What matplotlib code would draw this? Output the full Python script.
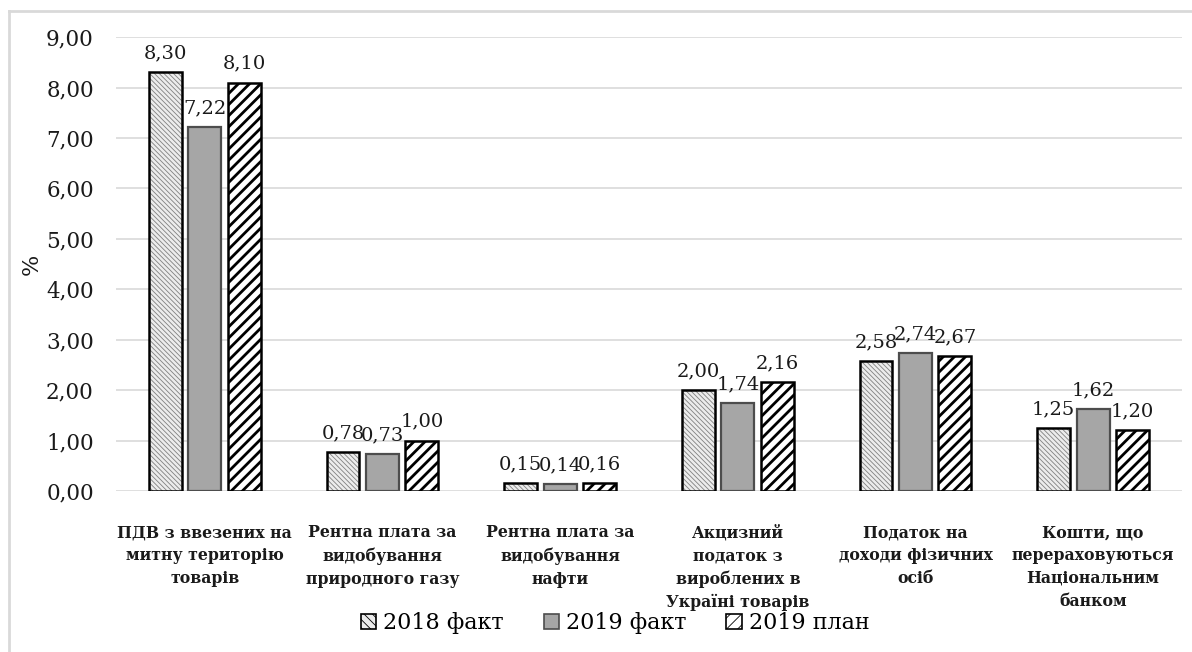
import matplotlib
matplotlib.use("Agg")
import matplotlib.pyplot as plt
import numpy as np
from matplotlib.patches import Patch
from matplotlib.lines import Line2D

categories = [
    "ПДВ з ввезених на\nмитну територію\nтоварів",
    "Рентна плата за\nвидобування\nприродного газу",
    "Рентна плата за\nвидобування\nнафти",
    "Акцизний\nподаток з\nвироблених в\nУкраїні товарів",
    "Податок на\nдоходи фізичних\nосіб",
    "Кошти, що\nперераховуються\nНаціональним\nбанком",
]
series_names = ["2018 факт", "2019 факт", "2019 план"]
fact_2018 = [8.30, 0.78, 0.15, 2.00, 2.58, 1.25]
fact_2019 = [7.22, 0.73, 0.14, 1.74, 2.74, 1.62]
plan_2019 = [8.10, 1.00, 0.16, 2.16, 2.67, 1.20]
y_ticks = [0, 1, 2, 3, 4, 5, 6, 7, 8, 9]

plt.rcParams["font.family"] = ["DejaVu Serif"]
plt.rcParams["hatch.linewidth"] = 0.6

fig = plt.figure(figsize=(11.92, 6.52), dpi=100)
ax = fig.add_axes([0.0973, 0.247, 0.8943, 0.696])

x = np.arange(len(categories))
width = 0.185
step = 0.222


def comma(v):
    return f"{v:.2f}".replace(".", ",")


def hatched_bars(pos, vals, face, hatch, hatch_color, hatch_lw, edge, edge_lw):
    with plt.rc_context({"hatch.linewidth": hatch_lw, "hatch.color": hatch_color}):
        under = ax.bar(pos, vals, width, color=face, edgecolor=hatch_color,
                       hatch=hatch, linewidth=0, zorder=3)
        for p in under:
            if hasattr(p, "set_hatch_linewidth"):
                p.set_hatch_linewidth(hatch_lw)
    top = ax.bar(pos, vals, width, facecolor="none", edgecolor=edge,
                 linewidth=edge_lw, zorder=4)
    return top


b1 = hatched_bars(x - step, fact_2018, "#ececec", "\\\\\\\\\\\\\\", "#808080", 0.6, "black", 1.8)
b2 = ax.bar(x, fact_2019, width, color="#a6a6a6", edgecolor="#4d4d4d",
            linewidth=1.6, zorder=4)
b3 = hatched_bars(x + step, plan_2019, "white", "///", "black", 2.0, "black", 1.8)

for bars, vals in [(b1, fact_2018), (b2, fact_2019), (b3, plan_2019)]:
    for rect, v in zip(bars, vals):
        ax.annotate(comma(v), (rect.get_x() + rect.get_width() / 2, v),
                    xytext=(0, 7), textcoords="offset points",
                    ha="center", va="bottom", fontsize=14, color="#1a1a1a",
                    zorder=6)

ax.set_xlim(-0.5, len(categories) - 0.5)
ax.set_ylim(0, 9)
ax.set_yticks(y_ticks)
ax.set_yticklabels([comma(t) for t in y_ticks], fontsize=15.5, color="#1a1a1a")
ax.tick_params(axis="y", length=0, pad=16)
ax.set_xticks(x)
ax.set_xticklabels(categories, fontsize=11.3, fontweight="bold", color="#1a1a1a",
                   linespacing=1.45)
ax.tick_params(axis="x", length=0, pad=24)
for s in ax.spines.values():
    s.set_visible(False)
ax.grid(axis="y", color="#d9d9d9", linewidth=1.2, zorder=0)
ax.set_axisbelow(True)
ax.set_ylabel("%", fontsize=16, color="#1a1a1a")
ax.yaxis.set_label_coords(-0.069, 0.5)

# legend with small square swatches
h1 = Patch(facecolor="#ececec", edgecolor="black", hatch="\\\\\\\\", linewidth=1.2)
h2 = Patch(facecolor="#a6a6a6", edgecolor="#4d4d4d", linewidth=1.2)
h3 = Patch(facecolor="white", edgecolor="black", hatch="///", linewidth=1.2)
leg = fig.legend([h1, h2, h3], series_names, loc="center",
                 bbox_to_anchor=(0.516, 0.044), ncol=3, frameon=False,
                 fontsize=16, handlelength=0.7, handleheight=0.7,
                 handletextpad=0.3, columnspacing=1.8)

# light frame on the top and left edges of the chart area
fig.add_artist(Line2D([0.0075, 0.0075], [0.0, 0.983], transform=fig.transFigure,
                      color="#d9d9d9", linewidth=2))
fig.add_artist(Line2D([0.0075, 1.0], [0.983, 0.983], transform=fig.transFigure,
                      color="#d9d9d9", linewidth=2))

fig.savefig("out.png", dpi=100, facecolor="white")
